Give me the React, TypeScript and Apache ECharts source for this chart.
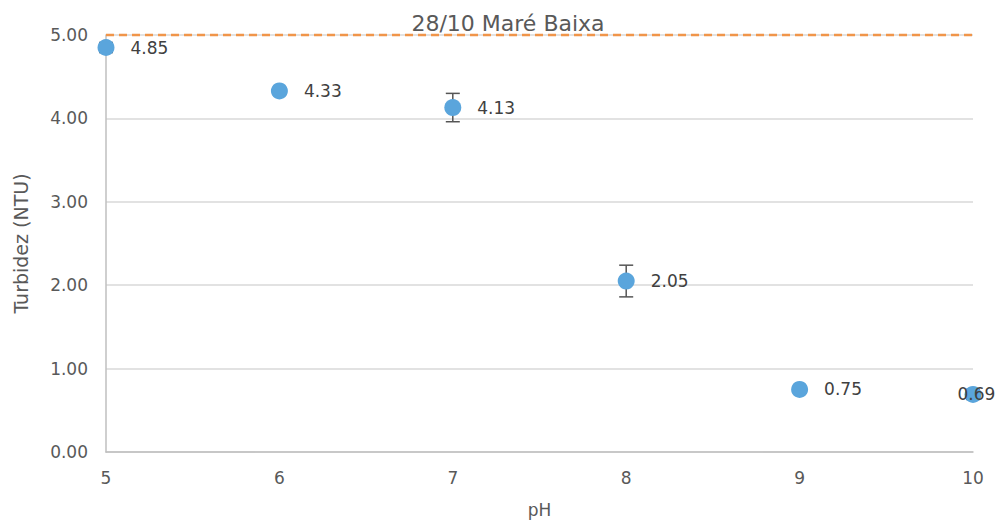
import React, { useEffect, useRef } from "react";
import * as echarts from "echarts";

const phValues = [5, 6, 7, 8, 9, 10];
const turbidity = [4.85, 4.33, 4.13, 2.05, 0.75, 0.69];
const errors = [0.06, 0.0, 0.17, 0.19, 0.0, 0.06];
const yTicks = [0, 1, 2, 3, 4, 5];
const limitValue = 5;
const limitExtentX = [5, 10.13];

export default function App() {
  const ref = useRef<HTMLDivElement>(null);
  useEffect(() => {
    if (!ref.current) return;
    const chart = echarts.init(ref.current, undefined, { renderer: "svg" });
    const font = "'DejaVu Sans', sans-serif";
    const points = phValues.map((x, i) => {
      const item: any = { value: [x, turbidity[i]] };
      if (i === phValues.length - 1) item.label = { offset: [-40, 0] };
      return item;
    });
    const errData = phValues.map((x, i) => [x, turbidity[i], errors[i]]);
    chart.setOption({
      animation: false,
      title: {
        text: "28/10 Maré Baixa",
        left: 503,
        textAlign: "center",
        top: 7,
        textStyle: { color: "#595959", fontSize: 22, fontWeight: "normal", fontFamily: font },
      },
      grid: { left: 106, right: 31, top: 35, bottom: 71 },
      xAxis: {
        type: "value",
        min: 5,
        max: 10,
        interval: 1,
        name: "pH",
        nameLocation: "middle",
        nameGap: 49,
        nameTextStyle: { color: "#595959", fontSize: 17, fontFamily: font },
        axisLine: { show: true, lineStyle: { color: "#bfbfbf", width: 1.5 } },
        axisTick: { show: false },
        splitLine: { show: false },
        axisLabel: { color: "#595959", fontSize: 17, margin: 17, fontFamily: font },
      },
      yAxis: {
        type: "value",
        min: yTicks[0],
        max: yTicks[yTicks.length - 1],
        interval: 1,
        name: "Turbidez (NTU)",
        nameLocation: "middle",
        nameGap: 76,
        nameTextStyle: { color: "#595959", fontSize: 19, fontFamily: font },
        axisLine: { show: true, lineStyle: { color: "#bfbfbf", width: 1.5 } },
        axisTick: { show: false },
        splitLine: { show: true, lineStyle: { color: "#d9d9d9", width: 1.5 } },
        axisLabel: {
          color: "#595959",
          fontSize: 17,
          margin: 18,
          fontFamily: font,
          formatter: (v: number) => v.toFixed(2),
        },
      },
      series: [
        {
          type: "line",
          data: limitExtentX.map((x) => [x, limitValue]),
          symbol: "none",
          clip: false,
          lineStyle: { color: "#f0954a", width: 2.5, type: [8, 5] },
          z: 1,
        },
        {
          type: "custom",
          data: errData,
          renderItem: (params: any, api: any) => {
            const x = api.value(0);
            const y = api.value(1);
            const e = api.value(2);
            if (!e) return null;
            const top = api.coord([x, y + e]);
            const bot = api.coord([x, y - e]);
            const w = 7;
            const style = { stroke: "#555555", lineWidth: 1.5 };
            return {
              type: "group",
              children: [
                { type: "line", shape: { x1: top[0], y1: top[1], x2: bot[0], y2: bot[1] }, style },
                { type: "line", shape: { x1: top[0] - w, y1: top[1], x2: top[0] + w, y2: top[1] }, style },
                { type: "line", shape: { x1: bot[0] - w, y1: bot[1], x2: bot[0] + w, y2: bot[1] }, style },
              ],
            };
          },
          clip: false,
          z: 2,
        },
        {
          type: "scatter",
          data: points,
          symbolSize: 17,
          itemStyle: { color: "#5aa5dc", opacity: 1 },
          clip: false,
          z: 3,
          label: {
            show: true,
            position: "right",
            distance: 16,
            color: "#404040",
            fontSize: 17,
            fontFamily: font,
            formatter: (p: any) => p.value[1].toFixed(2),
          },
        },
      ],
    });
    return () => chart.dispose();
  }, []);
  return <div ref={ref} style={{ width: 1004, height: 523, position: "absolute", left: 0, top: 0 }} />;
}
